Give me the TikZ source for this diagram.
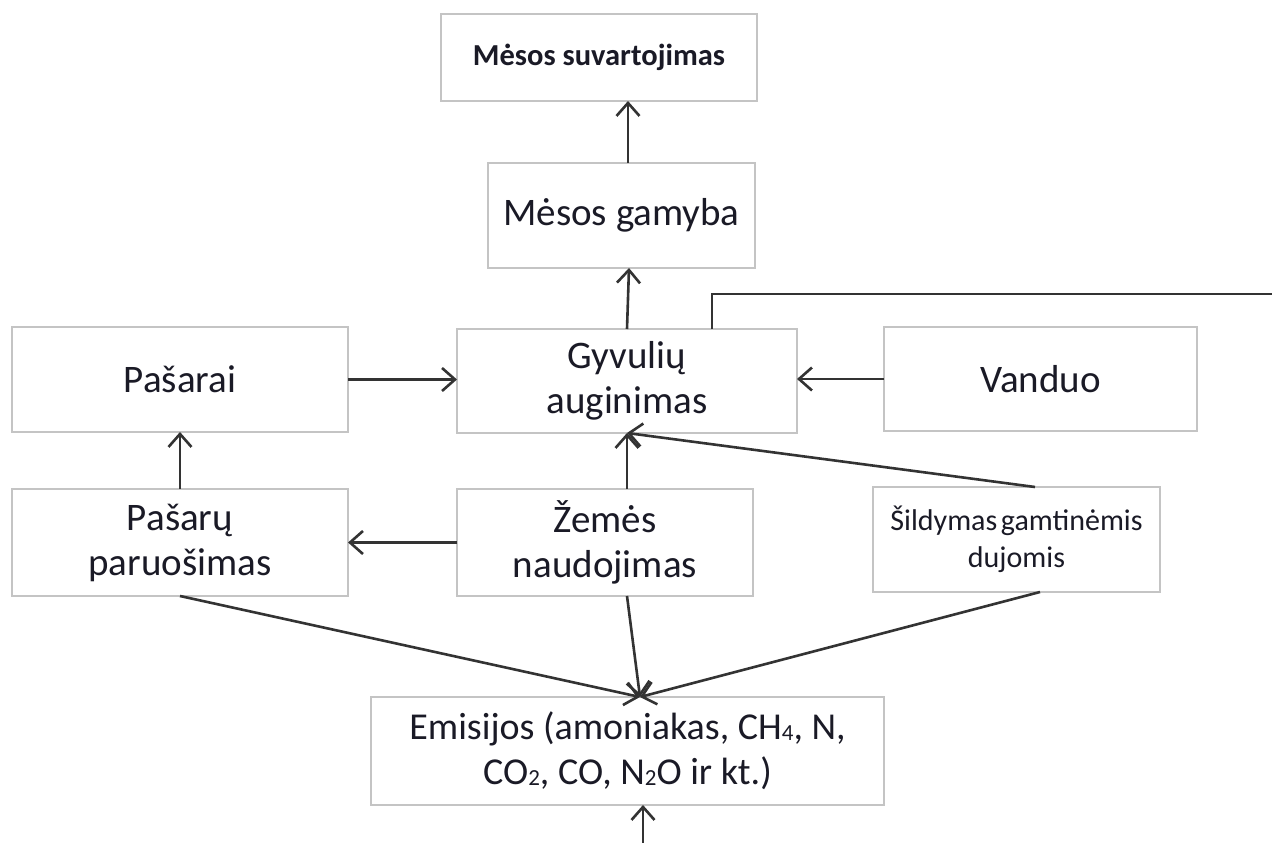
\documentclass[tikz,border=0pt]{standalone}
\usepackage{fontspec}
\setmainfont{Carlito}
\usetikzlibrary{arrows.meta,calc}
\definecolor{boxline}{HTML}{C4C4C4}
\definecolor{wire}{HTML}{333333}
\definecolor{ink}{HTML}{1A1A26}
\newcommand{\smalldigit}[1]{\raisebox{-1pt}{\fontsize{23}{23}\selectfont #1}}
\begin{document}
\begin{tikzpicture}[x=1pt,y=-1pt,
  box/.style={draw=boxline, line width=2.2pt, fill=white, inner sep=0pt, outer sep=0pt,
    align=center, text=ink, font=\fontsize{39}{45}\selectfont},
  arr/.style={draw=wire, line width=2.6pt, -{Straight Barb[length=13pt,width=23pt,line width=2.6pt]}},
  wireline/.style={draw=wire, line width=2.6pt}]
\useasboundingbox (0,0) rectangle (1272,843);
\fill[white] (0,0) rectangle (1272,843);

% boxes
\node[box, minimum width=316pt, minimum height=87pt, font=\fontsize{30.5}{36}\selectfont\bfseries] (top) at (599,57.5) {Mėsos suvartojimas};
\node[box, minimum width=267pt, minimum height=105pt] (gam) at (621.5,215.5) {Mėsos gamyba};
\node[box, minimum width=340pt, minimum height=104pt] (gyv) at (627,381) {Gyvulių\\auginimas};
\node[box, minimum width=336pt, minimum height=105pt] (pas) at (180,379.5) {Pašarai};
\node[box, minimum width=313pt, minimum height=104pt] (van) at (1040.5,379) {Vanduo};
\node[box, minimum width=336pt, minimum height=107pt] (pasp) at (180,542.5) {Pašarų\\paruošimas};
\node[box, minimum width=296pt, minimum height=107pt] (zem) at (605,542.5) {Žemės\\naudojimas};
\node[box, minimum width=287pt, minimum height=105pt, font=\fontsize{30}{37}\selectfont] (sild) at (1016.5,539.5) {Šildymas\hspace{0.12em}gamtinėmis\\dujomis};
\node[box, minimum width=513pt, minimum height=108pt, font=\fontsize{38}{45}\selectfont] (emi) at (627.5,751) {Emisijos (amoniakas, CH\smalldigit{4}, N,\\CO\smalldigit{2}, CO, N\smalldigit{2}O ir kt.)};

% connectors
\coordinate (exitR) at (1272,294);
\coordinate (emin) at ($(emi.north)+(12.5,0)$);
\coordinate (bot) at (643,843);

\draw[arr] ($(gam.north)+(6.5,0)$) -- ($(top.south)+(29,0)$);
\draw[arr] (gyv.north) -- ($(gam.south)+(7.5,0)$);
\draw[wireline] ($(gyv.north)+(85,0)$) |- (exitR);
\draw[arr] (pas.east) -- (pas.east -| gyv.west);
\draw[arr] (van.west) -- (van.west -| gyv.east);
\draw[arr] (pasp.north) -- (pas.south);
\draw[arr] (zem.west) -- (pasp.east);
\draw[arr] (zem.north -| gyv.south) -- (gyv.south);
\draw[arr] ($(sild.north)+(18.5,0)$) -- (gyv.south);
\draw[arr] (pasp.south) -- (emin);
\draw[arr] (zem.south -| gyv.south) -- (emin);
\draw[arr] ($(sild.south)+(23.5,0)$) -- (emin);
\draw[arr] (bot) -- (emi.south -| bot);
\end{tikzpicture}
\end{document}
